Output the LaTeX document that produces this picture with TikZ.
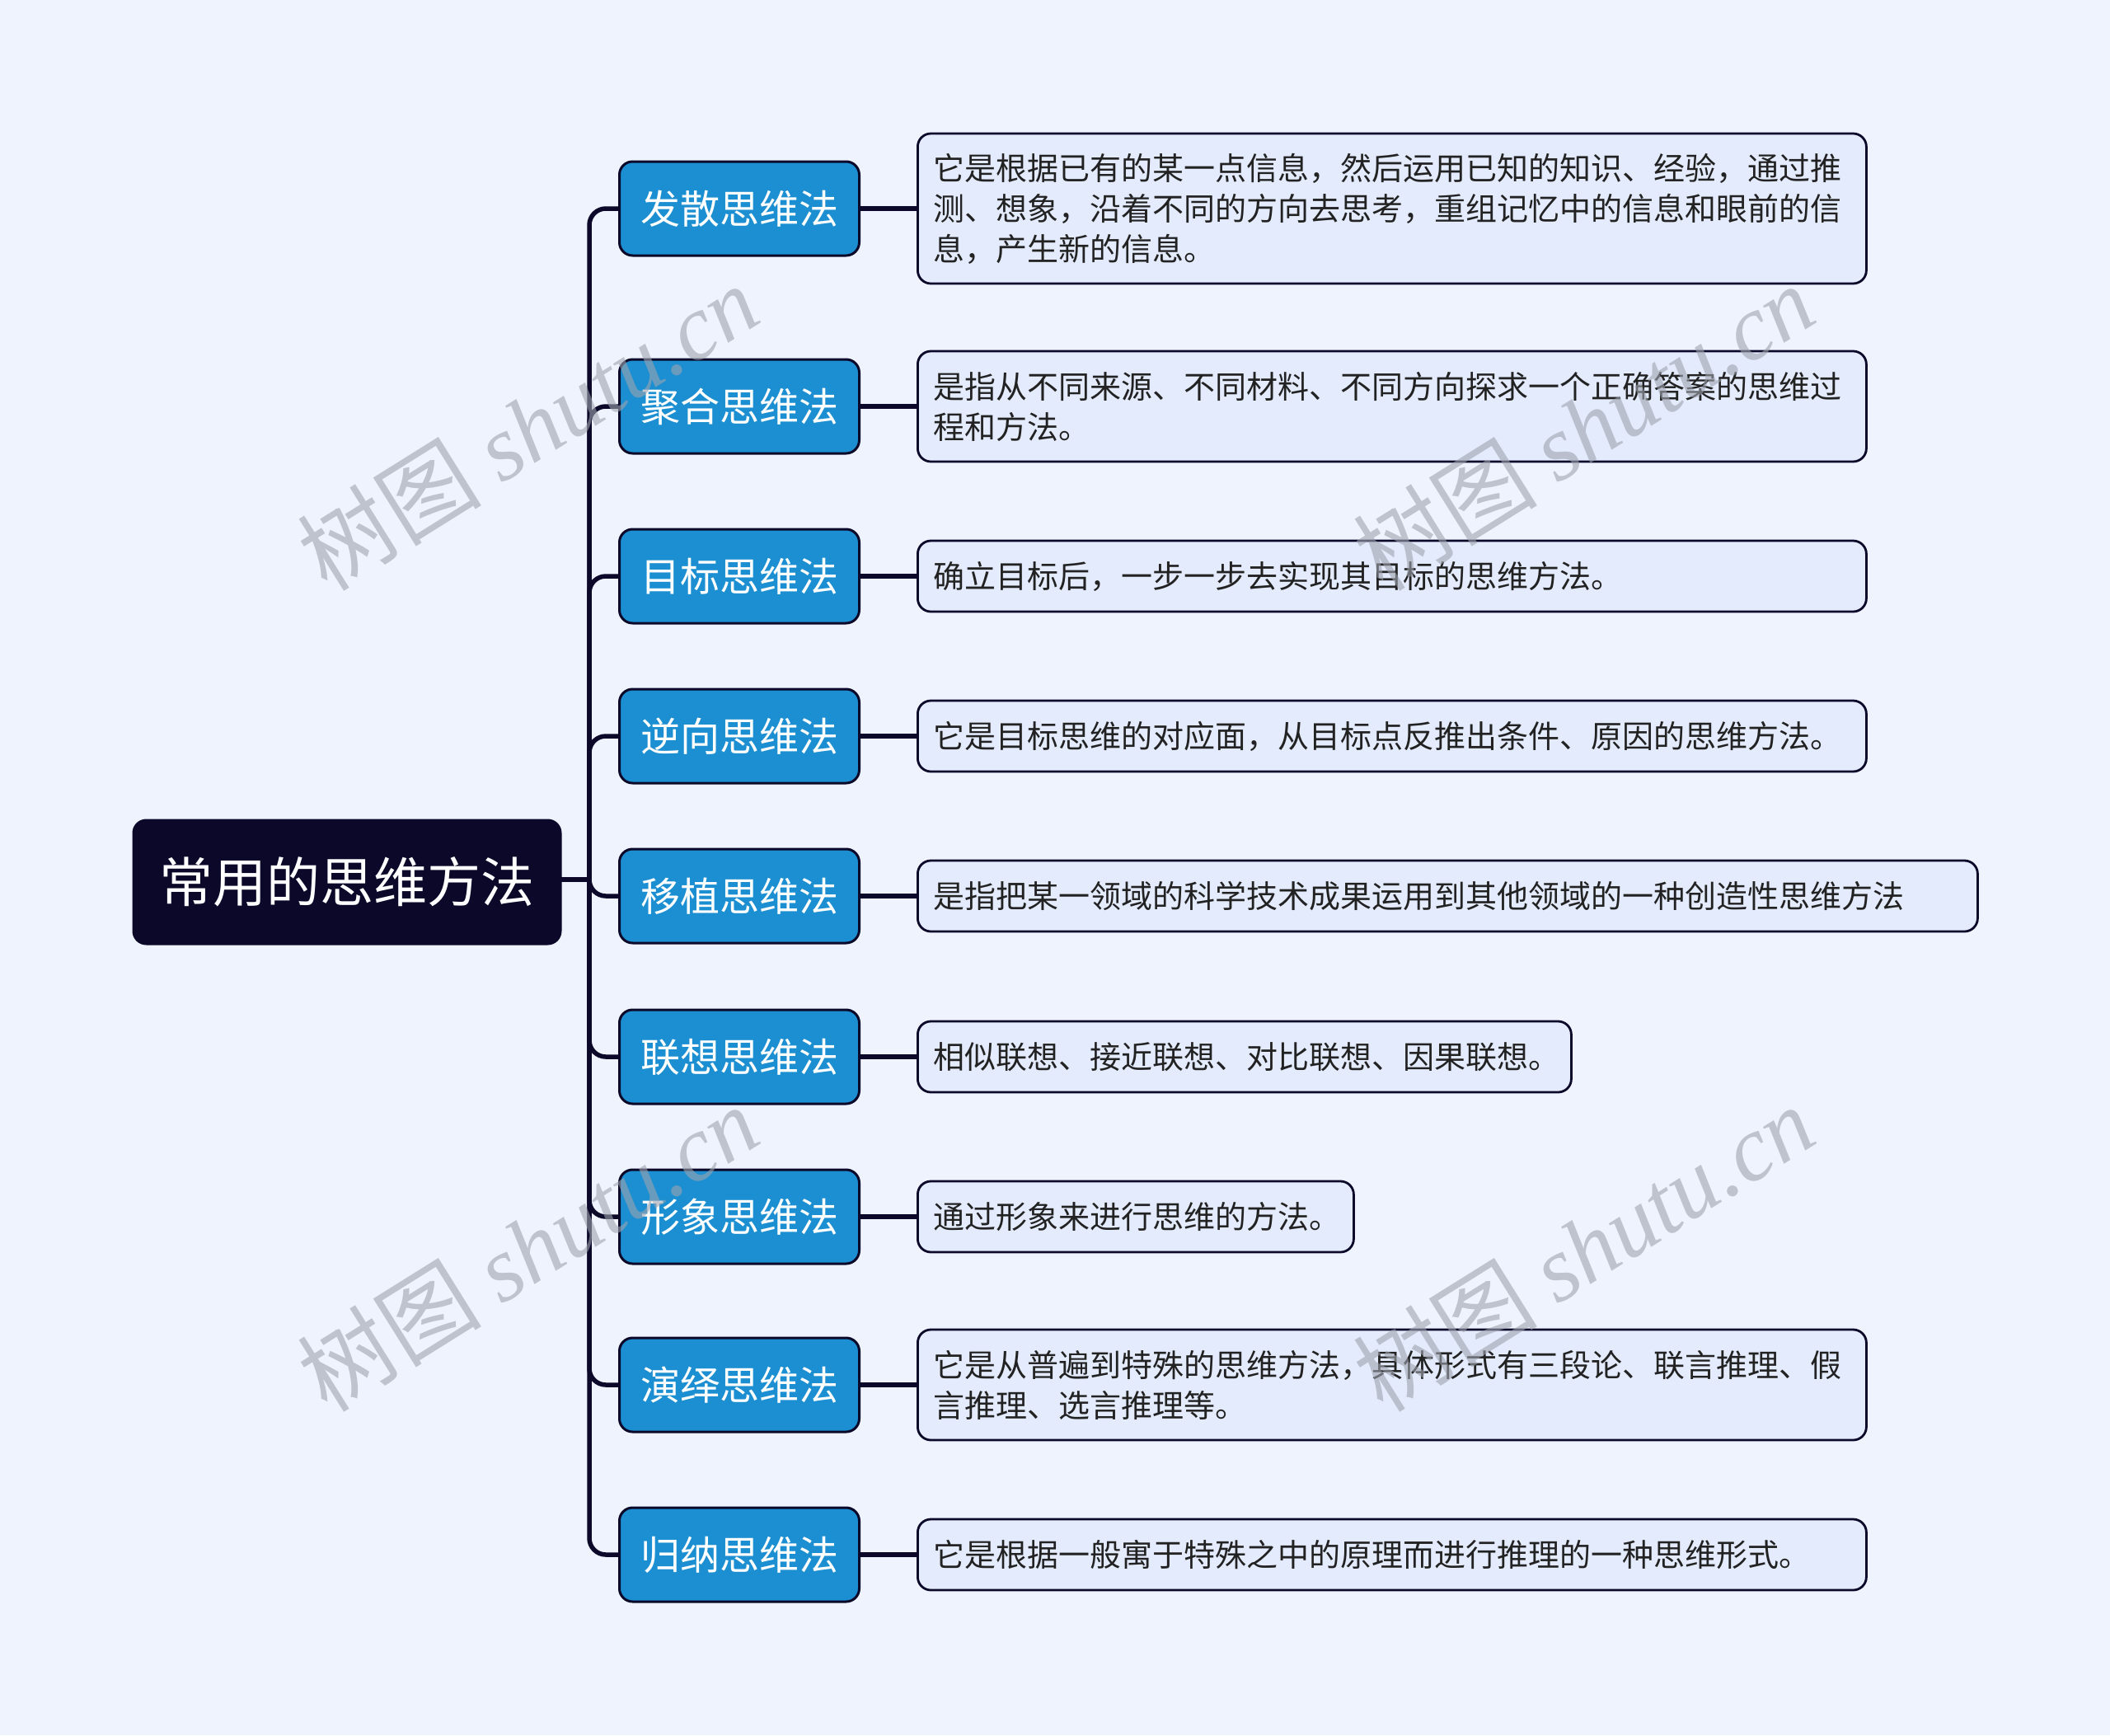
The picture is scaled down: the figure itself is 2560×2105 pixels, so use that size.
\documentclass[tikz,border=0pt]{standalone}
\usepackage{fontspec}
\setmainfont{Noto Sans CJK SC}
\newfontfamily\wmserif{Liberation Serif}
\definecolor{bgc}{HTML}{EEF3FE}
\definecolor{bluec}{HTML}{1B8FD1}
\definecolor{navy}{HTML}{0B0829}
\definecolor{descf}{HTML}{E3EBFC}
\definecolor{txtc}{HTML}{222222}
\definecolor{wmc}{HTML}{9EA3AE}
\tikzset{
  rootbox/.style={draw=navy, fill=navy, line width=2pt, rounded corners=16pt, text=white,
    minimum width=519pt, minimum height=151pt, inner sep=0pt,
    font=\fontsize{65}{70}\selectfont},
  catbox/.style={draw=navy, fill=bluec, line width=3pt, rounded corners=16pt, text=white,
    minimum width=291pt, minimum height=114pt, inner sep=0pt, anchor=west,
    font=\fontsize{48}{54}\selectfont},
  descbox/.style={draw=navy, fill=descf, line width=2.8pt, rounded corners=16pt, text=txtc,
    inner xsep=19pt, inner ysep=0pt, anchor=west, align=left,
    font=\fontsize{38}{49}\selectfont},
  conn/.style={draw=navy, line width=5.5pt, rounded corners=20pt},
  wm/.style={text=wmc, opacity=0.6, rotate=32, font=\fontsize{112}{120}\selectfont}
}
\begin{document}
\begin{tikzpicture}[x=1pt,y=-1pt]
\fill[bgc] (0,0) rectangle (2560,2105);
\useasboundingbox (0,0) rectangle (2560,2105);

\coordinate (tr) at (715,1067);
\coordinate (c1p) at (750,253);
\coordinate (c2p) at (750,493);
\coordinate (c3p) at (750,699);
\coordinate (c4p) at (750,893);
\coordinate (c5p) at (750,1087);
\coordinate (c6p) at (750,1282);
\coordinate (c7p) at (750,1476);
\coordinate (c8p) at (750,1680);
\coordinate (c9p) at (750,1886);

% connectors first (under nodes)
\foreach \i in {1,...,9} {
  \draw[conn] (tr) |- (c\i p);
}
\draw[conn, rounded corners=0pt] (681,1067) -- (tr);

\node[rootbox] (root) at (421,1070) {常用的思维方法};

\node[catbox] (c1) at (c1p) {发散思维法};
\node[catbox] (c2) at (c2p) {聚合思维法};
\node[catbox] (c3) at (c3p) {目标思维法};
\node[catbox] (c4) at (c4p) {逆向思维法};
\node[catbox] (c5) at (c5p) {移植思维法};
\node[catbox] (c6) at (c6p) {联想思维法};
\node[catbox] (c7) at (c7p) {形象思维法};
\node[catbox] (c8) at (c8p) {演绎思维法};
\node[catbox] (c9) at (c9p) {归纳思维法};

\node[descbox, text width=1113pt, minimum height=182pt] (d1) at (1112,253)
  {它是根据已有的某一点信息，然后运用已知的知识、经验，通过推\\测、想象，沿着不同的方向去思考，重组记忆中的信息和眼前的信\\息，产生新的信息。};
\node[descbox, text width=1113pt, minimum height=134pt] (d2) at (1112,493)
  {是指从不同来源、不同材料、不同方向探求一个正确答案的思维过\\程和方法。};
\node[descbox, text width=1113pt, minimum height=86pt] (d3) at (1112,699)
  {确立目标后，一步一步去实现其目标的思维方法。};
\node[descbox, text width=1113pt, minimum height=86pt] (d4) at (1112,893)
  {它是目标思维的对应面，从目标点反推出条件、原因的思维方法。};
\node[descbox, text width=1248pt, minimum height=86pt] (d5) at (1112,1087)
  {是指把某一领域的科学技术成果运用到其他领域的一种创造性思维方法};
\node[descbox, text width=755pt, minimum height=86pt] (d6) at (1112,1282)
  {相似联想、接近联想、对比联想、因果联想。};
\node[descbox, text width=491pt, minimum height=86pt] (d7) at (1112,1476)
  {通过形象来进行思维的方法。};
\node[descbox, text width=1113pt, minimum height=134pt] (d8) at (1112,1680)
  {它是从普遍到特殊的思维方法，具体形式有三段论、联言推理、假\\言推理、选言推理等。};
\node[descbox, text width=1113pt, minimum height=86pt] (d9) at (1112,1886)
  {它是根据一般寓于特殊之中的原理而进行推理的一种思维形式。};

\foreach \i in {1,...,9} {
  \draw[conn] (c\i.east) -- (d\i.west);
}

% watermarks
\node[wm] (w1) at (640,518) {树图 {\wmserif\itshape shutu.cn}};
\node[wm] (w2) at (1921,518) {树图 {\wmserif\itshape shutu.cn}};
\node[wm] (w3) at (640,1514) {树图 {\wmserif\itshape shutu.cn}};
\node[wm] (w4) at (1921,1514) {树图 {\wmserif\itshape shutu.cn}};
\end{tikzpicture}
\end{document}
